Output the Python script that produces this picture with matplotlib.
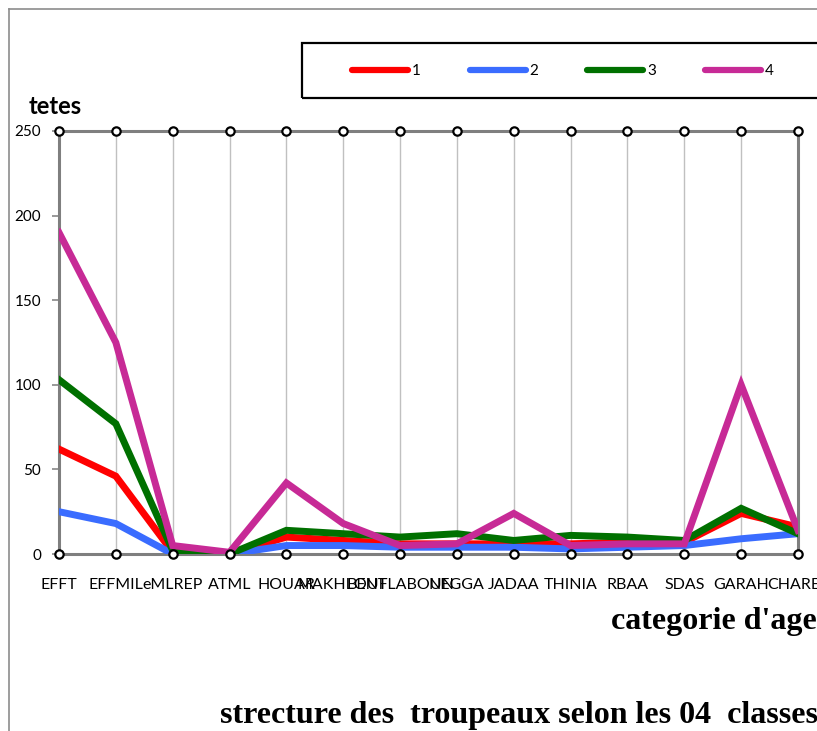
import numpy as np
import matplotlib
matplotlib.use("Agg")
import matplotlib.pyplot as plt
from matplotlib.lines import Line2D
from matplotlib.patches import Rectangle

# age categories per site
categories = ["EFFT", "EFFMIL", "eMLREP", "ATML", "HOUAR", "MAKHLOUF", "BENTLABOUN",
              "NEGGA", "JADAA", "THINIA", "RBAA", "SDAS", "GARAH", "CHAREF"]

classe_1 = [62, 46, 1, 0, 10, 8, 6, 6, 6, 6, 7, 7, 24, 16]
classe_2 = [25, 18, 0, 0, 5, 5, 4, 4, 4, 3, 4, 5, 9, 12]
classe_3 = [103, 77, 2, 0, 14, 12, 10, 12, 8, 11, 10, 8, 27, 12]
classe_4 = [190, 125, 5, 1, 42, 18, 5, 6, 24, 5, 6, 6, 100, 14]

series = [("1", classe_1, "#ff0000"),
          ("2", classe_2, "#3a6cff"),
          ("3", classe_3, "#007000"),
          ("4", classe_4, "#c72a96")]

plt.rcParams["font.family"] = ["Lato", "DejaVu Sans"]

W, H = 817, 731
fig = plt.figure(figsize=(W / 100, H / 100), dpi=100)
ax = fig.add_axes([59 / W, 1 - 554 / H, 739 / W, 423 / H])

x = np.arange(len(categories))

for name, vals, col in series:
    ax.plot(x, vals, color=col, lw=5, solid_joinstyle="miter", label=name, zorder=3)

ax.set_xlim(0, len(categories) - 1)
ax.set_ylim(0, 250)
ax.set_yticks([0, 50, 100, 150, 200, 250])
ax.set_xticks(x)
ax.set_xticklabels(categories, fontsize=11.5)
ax.tick_params(axis="x", length=0, pad=17)
ax.tick_params(axis="y", length=5, width=1.2, color="#888888", labelsize=11, pad=8)
ax.grid(axis="x", color="#c0c0c0", lw=1)
ax.set_axisbelow(True)

for s in ax.spines.values():
    s.set_color("#7f7f7f")
    s.set_linewidth(2.2)

# open circle markers along the top and bottom of the frame
for yv in (0, 250):
    ax.plot(x, [yv] * len(x), ls="none", marker="o", ms=6, mfc="white",
            mec="black", mew=1.6, clip_on=False, zorder=5)

fig.text(29 / W, 1 - 106 / H, "tetes", fontsize=17, fontweight="bold", va="center")

fig.text(1.0, 1 - 622 / H, "categorie d'age", fontsize=23, fontweight="bold",
         family="Liberation Serif", ha="right", va="center")
fig.text(220 / W, 1 - 716 / H, "strecture des  troupeaux selon les 04  classes",
         fontsize=23, fontweight="bold", family="Liberation Serif", va="center")

# legend box, drawn by hand so it runs off the right edge
fig.add_artist(Rectangle((302 / W, 1 - 98 / H), 530 / W, 55 / H, transform=fig.transFigure,
                         fill=False, edgecolor="black", lw=1.6, clip_on=False))
for i, (name, _, col) in enumerate(series):
    x0 = 352 + i * 117.7
    fig.add_artist(Line2D([x0 / W, (x0 + 56) / W], [1 - 70 / H, 1 - 70 / H],
                          transform=fig.transFigure, color=col, lw=4.5,
                          solid_capstyle="round"))
    fig.text((x0 + 60) / W, 1 - 71 / H, name, fontsize=11, va="center")

# outer frame edges
fig.add_artist(Line2D([9 / W, 9 / W], [0, 1 - 9 / H], transform=fig.transFigure,
                      color="#8c8c8c", lw=1.2))
fig.add_artist(Line2D([9 / W, 1], [1 - 9 / H, 1 - 9 / H], transform=fig.transFigure,
                      color="#8c8c8c", lw=1.2))

fig.savefig("out.png", dpi=100)
